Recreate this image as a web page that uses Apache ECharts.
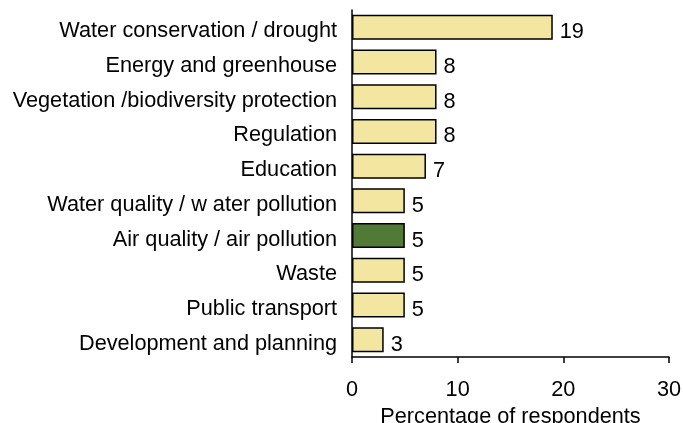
<!DOCTYPE html>
<html>
<head>
<meta charset="utf-8">
<script src="https://cdn.jsdelivr.net/npm/echarts@6/dist/echarts.min.js"></script>
<style>
html, body { margin: 0; padding: 0; background: #fff; }
#main { width: 683px; height: 423px; }
</style>
</head>
<body>
<div id="main"></div>
<script>
// categories from top to bottom
var categories = ['Water conservation / drought', 'Energy and greenhouse', 'Vegetation /biodiversity protection',
    'Regulation', 'Education', 'Water quality / w ater pollution', 'Air quality / air pollution',
    'Waste', 'Public transport', 'Development and planning'];
var values = [19, 8, 8, 8, 7, 5, 5, 5, 5, 3];
var highlight = 'Air quality / air pollution';
var xTicks = [0, 10, 20, 30];

var font = 'Liberation Sans, Arial, sans-serif';
var myChart = echarts.init(document.getElementById('main'));

var barData = values.map(function (v, i) {
    return {
        value: v,
        itemStyle: { color: categories[i] === highlight ? '#507a36' : '#f3e6a0' }
    };
});

var option = {
    animation: false,
    grid: { left: 352, right: 14, top: 10, bottom: 66, outerBoundsMode: 'none', containLabel: false },
    xAxis: {
        type: 'value',
        min: xTicks[0],
        max: xTicks[xTicks.length - 1],
        interval: 10,
        name: 'Percentage of respondents',
        nameLocation: 'middle',
        nameGap: 44,
        nameTextStyle: { fontFamily: font, fontSize: 21.7, color: '#000' },
        axisLine: { show: true, lineStyle: { color: '#000', width: 1.5 } },
        axisTick: { show: true, length: 6, inside: false, lineStyle: { color: '#000', width: 1.5 } },
        axisLabel: { fontFamily: font, fontSize: 21.7, color: '#000', margin: 22 },
        splitLine: { show: false }
    },
    yAxis: {
        type: 'category',
        data: categories,
        inverse: true,
        axisLine: { show: true, lineStyle: { color: '#000', width: 1.5 } },
        axisTick: { show: false },
        axisLabel: {
            margin: 15,
            formatter: function (v) { return '{c|' + v + '}'; },
            rich: {
                // push text a few px below the bar centre, like the original
                c: { fontFamily: font, fontSize: 21.7, color: '#000', padding: [8, 0, 0, 0] }
            }
        }
    },
    series: [{
        type: 'bar',
        data: barData,
        barCategoryGap: '28%',
        itemStyle: { borderColor: '#000', borderWidth: 1.5 },
        label: {
            show: true,
            position: 'right',
            distance: 7,
            fontFamily: font,
            fontSize: 21.7,
            color: '#000',
            offset: [0, 5]
        }
    }]
};

myChart.setOption(option);
window.onresize = function () { myChart.resize(); };
</script>
</body>
</html>
